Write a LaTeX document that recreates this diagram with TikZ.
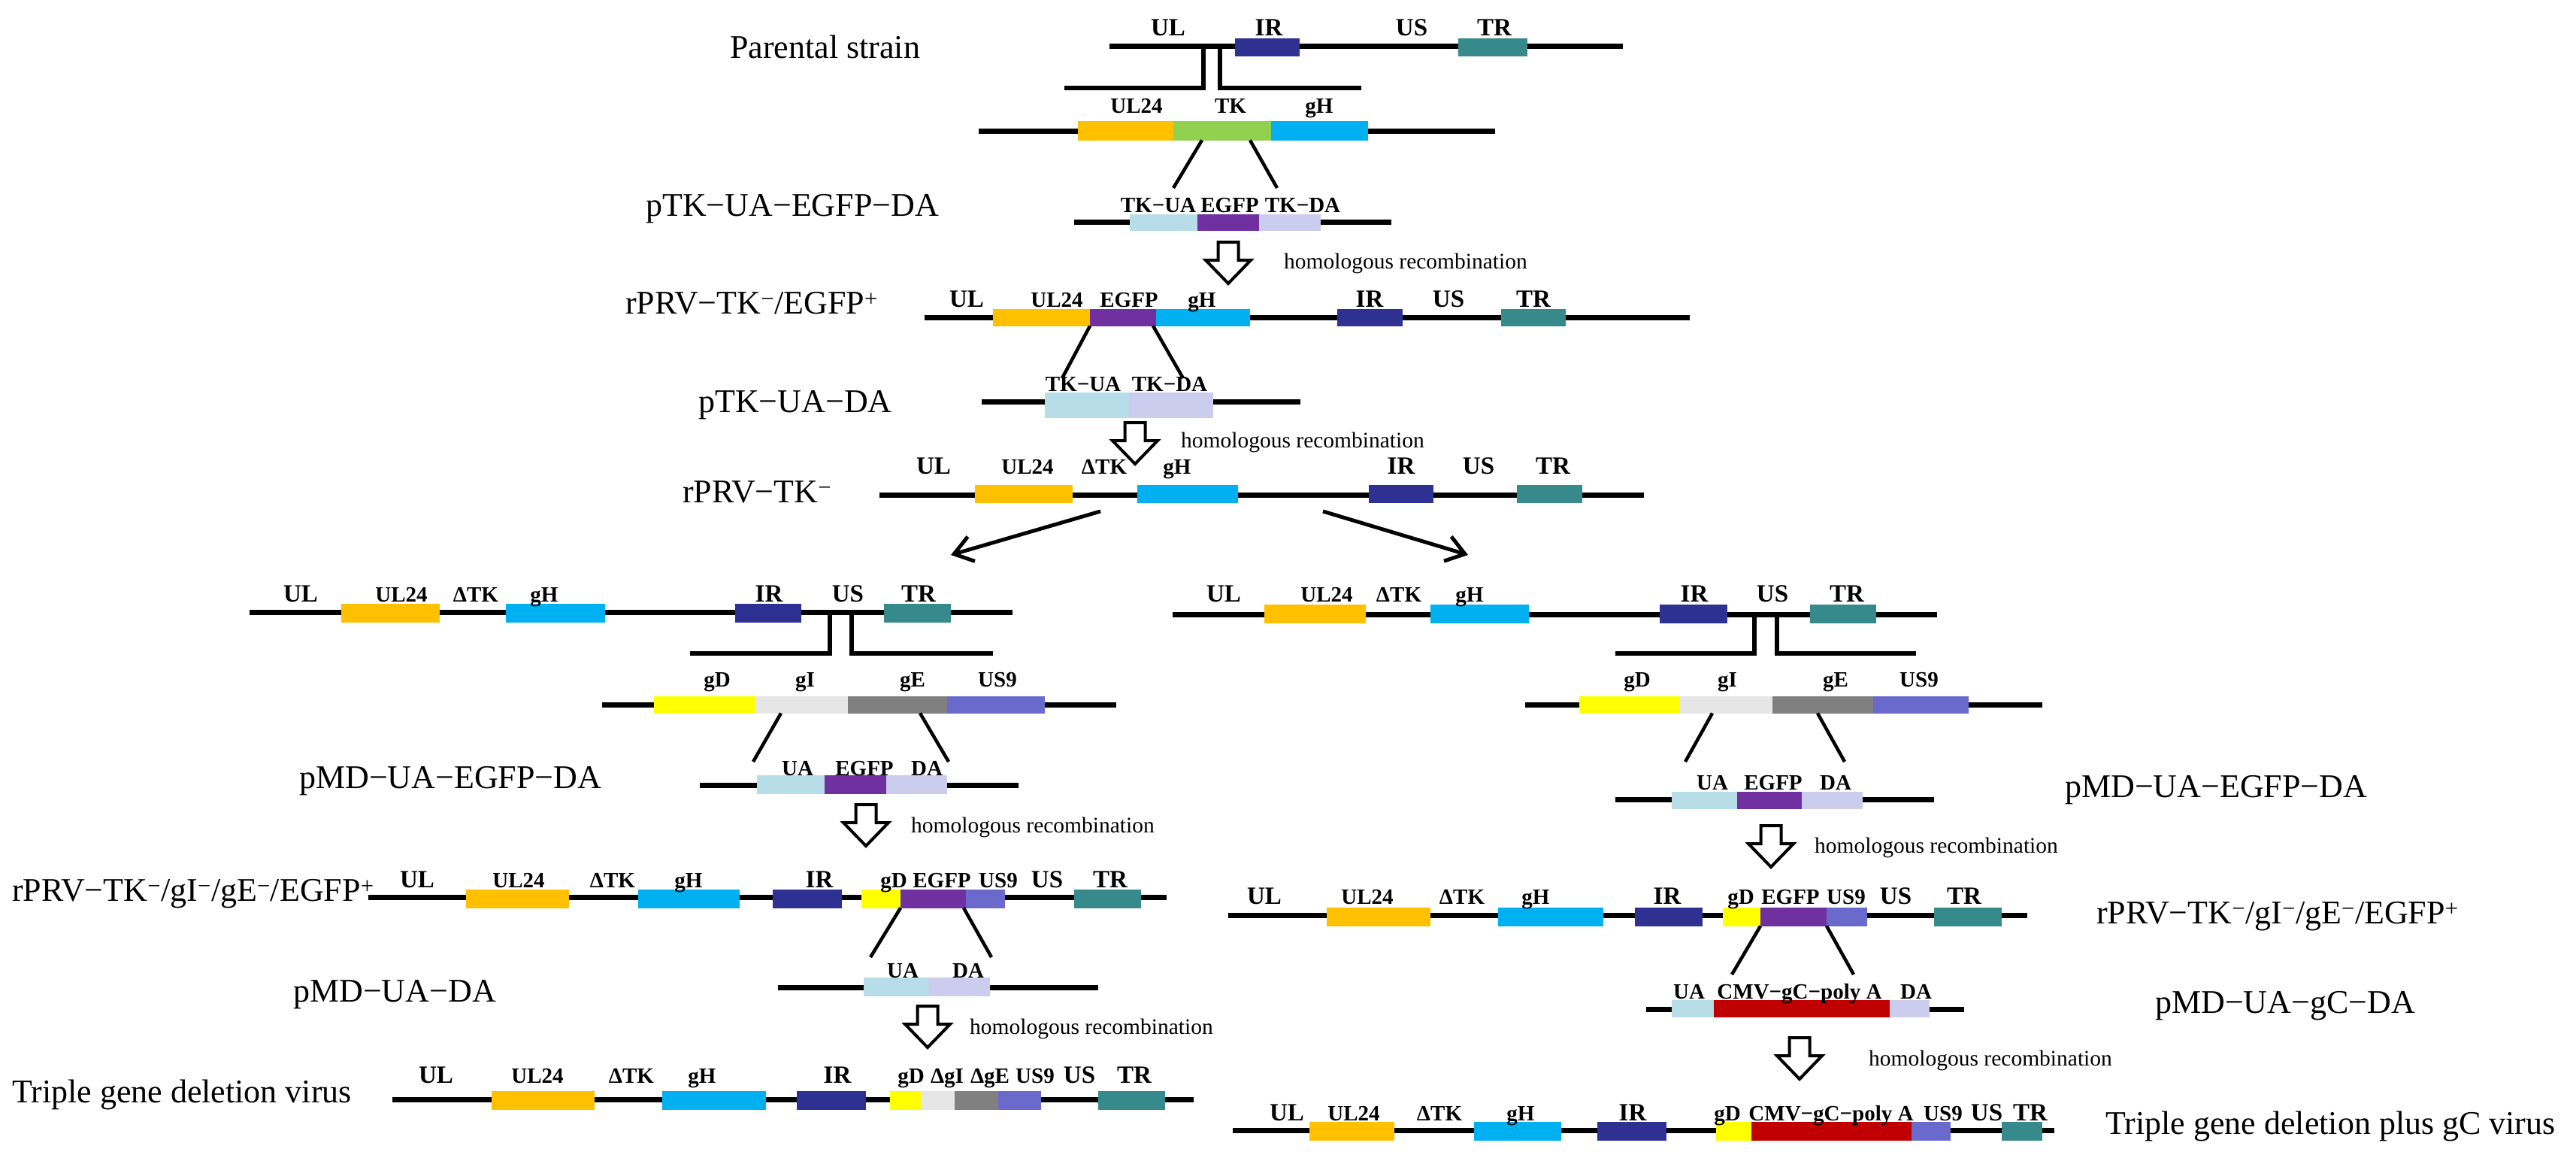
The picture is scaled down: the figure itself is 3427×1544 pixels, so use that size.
\documentclass[tikz,border=0pt]{standalone}
\usepackage{fontspec}
\setmainfont{Liberation Serif}
\usetikzlibrary{arrows.meta}
\definecolor{cUL}{RGB}{255,192,0}
\definecolor{cTK}{RGB}{146,208,80}
\definecolor{cgH}{RGB}{0,176,240}
\definecolor{cIR}{RGB}{46,49,146}
\definecolor{cTR}{RGB}{55,138,140}
\definecolor{cEG}{RGB}{112,48,160}
\definecolor{cUA}{RGB}{183,222,232}
\definecolor{cDA}{RGB}{204,204,238}
\definecolor{cgD}{RGB}{255,255,0}
\definecolor{cgI}{RGB}{230,230,230}
\definecolor{cgE}{RGB}{128,128,128}
\definecolor{cUS}{RGB}{106,106,205}
\definecolor{cCMV}{RGB}{192,0,0}
\newcommand{\gb}[6]{\node[gbox,fill=#6,minimum width={(#3)-(#2)},minimum height={#5},anchor=west] (#1) at (#2,#4) {};}
\newcommand{\harrow}[3]{\coordinate (#1) at (#2,#3);
 \draw[hollow] (#1) ++(-13.5,0) -- ++(27,0) -- ++(0,24) -- ++(16.5,0) -- ++(-30,31) -- ++(-30,-31) -- ++(16.5,0) -- cycle;}
\newcommand{\bbone}[4]{\coordinate (#1L) at (#2,#4); \coordinate (#1R) at (#3,#4); \draw[bb] (#1L) -- (#1R);}
\tikzset{
  bb/.style={line width=7pt},
  gbox/.style={rectangle,inner sep=0pt,outer sep=0pt,draw=none},
  reg/.style={anchor=base,inner sep=0pt,font=\bfseries\fontsize{33}{34}\selectfont},
  gene/.style={anchor=base,inner sep=0pt,font=\bfseries\fontsize{29}{30}\selectfont},
  big/.style={anchor=base west,inner sep=0pt,font=\fontsize{44}{48}\selectfont},
  hr/.style={anchor=base west,inner sep=0pt,font=\fontsize{29.5}{30}\selectfont},
  conn/.style={line width=4.5pt},
  brk/.style={line width=5.5pt,line join=miter},
  hollow/.style={draw,line width=4pt,fill=white,line join=miter},
  branch/.style={line width=5pt,-{Straight Barb[length=24pt,width=34pt]}}
}
\begin{document}
\begin{tikzpicture}[x=1pt,y=-1pt]
\fill[white] (0,0) rectangle (3427,1544);
\useasboundingbox (0,0) rectangle (3427,1544);

% ---------- Row 1: parental strain
\node[big] (lab1) at (971,78) {Parental strain};
\bbone{r1}{1476}{2159}{62}
\gb{r1IR}{1643}{1729}{63}{24}{cIR}
\gb{r1TR}{1940}{2032}{63}{24}{cTR}
\node[reg] (t1UL) at (1554,48) {UL};
\node[reg] (t1IR) at (1688,48) {IR};
\node[reg] (t1US) at (1878,48) {US};
\node[reg] (t1TR) at (1988,48) {TR};
\coordinate (k1a) at (1601,62); \coordinate (k1b) at (1601,117); \coordinate (k1c) at (1416,117);
\coordinate (k1d) at (1623,62); \coordinate (k1e) at (1623,117); \coordinate (k1f) at (1811,117);
\draw[brk] (k1a) -- (k1b) -- (k1c);
\draw[brk] (k1d) -- (k1e) -- (k1f);

% ---------- Row 2
\bbone{r2}{1302}{1989}{174}
\gb{r2UL}{1434}{1561}{174}{25}{cUL}
\gb{r2TK}{1561}{1691}{174}{25}{cTK}
\gb{r2gH}{1691}{1820}{174}{25}{cgH}
\node[gene] (t2UL) at (1512,150) {UL24};
\node[gene] (t2TK) at (1637,150) {TK};
\node[gene] (t2gH) at (1755,150) {gH};
\coordinate (c2a) at (1561,250); \coordinate (c2b) at (1699,250);
\draw[conn] (r2TK.south west) ++(38,0) -- (c2a);
\draw[conn] (r2TK.south west) ++(102,0) -- (c2b);

% ---------- Row 3
\node[big] (lab3) at (859,287) {pTK−UA−EGFP−DA};
\bbone{r3}{1429}{1851}{295}
\gb{r3UA}{1503}{1593}{296}{22}{cUA}
\gb{r3EG}{1593}{1675}{296}{22}{cEG}
\gb{r3DA}{1675}{1757}{296}{22}{cDA}
\node[gene] (t3UA) at (1541,282) {TK−UA};
\node[gene] (t3EG) at (1636,282) {EGFP};
\node[gene] (t3DA) at (1733,282) {TK−DA};
\harrow{a1}{1634}{322}
\node[hr] (h1) at (1708,357) {homologous recombination};

% ---------- Row 4
\node[big] (lab4) at (832,417) {rPRV−TK\textsuperscript{−}/EGFP\textsuperscript{+}};
\bbone{r4}{1230}{2248}{422}
\gb{r4UL}{1321}{1450}{422}{23}{cUL}
\gb{r4EG}{1450}{1538}{422}{23}{cEG}
\gb{r4gH}{1538}{1663}{422}{23}{cgH}
\gb{r4IR}{1779}{1866}{422}{23}{cIR}
\gb{r4TR}{1997}{2083}{422}{23}{cTR}
\node[reg] (t4UL) at (1286,408) {UL};
\node[gene] (t4U24) at (1406,408) {UL24};
\node[gene] (t4EG) at (1502,408) {EGFP};
\node[gene] (t4gH) at (1599,408) {gH};
\node[reg] (t4IR) at (1822,408) {IR};
\node[reg] (t4US) at (1927,408) {US};
\node[reg] (t4TR) at (2040,408) {TR};
\coordinate (c4a) at (1413,503); \coordinate (c4b) at (1574,503);
\draw[conn] (r4EG.south west) -- (c4a);
\draw[conn] (r4EG.south east) ++(-4,0) -- (c4b);

% ---------- Row 5
\node[big] (lab5) at (929,548) {pTK−UA−DA};
\bbone{r5}{1306}{1730}{534}
\gb{r5UA}{1390}{1502}{539}{34}{cUA}
\gb{r5DA}{1502}{1614}{539}{34}{cDA}
\node[gene] (t5UA) at (1441,520) {TK−UA};
\node[gene] (t5DA) at (1556,520) {TK−DA};
\harrow{a2}{1510}{562}
\node[hr] (h2) at (1571,595) {homologous recombination};

% ---------- Row 6
\node[big] (lab6) at (908,668) {rPRV−TK\textsuperscript{−}};
\bbone{r6}{1170}{2187}{658}
\gb{r6UL}{1297}{1427}{657}{24}{cUL}
\gb{r6gH}{1513}{1647}{657}{24}{cgH}
\gb{r6IR}{1821}{1907}{657}{24}{cIR}
\gb{r6TR}{2018}{2105}{657}{24}{cTR}
\node[reg] (t6UL) at (1242,630) {UL};
\node[gene] (t6U24) at (1367,630) {UL24};
\node[gene] (t6TK) at (1469,630) {ΔTK};
\node[gene] (t6gH) at (1566,630) {gH};
\node[reg] (t6IR) at (1864,630) {IR};
\node[reg] (t6US) at (1967,630) {US};
\node[reg] (t6TR) at (2066,630) {TR};
\coordinate (brL0) at (1464,680); \coordinate (brL1) at (1265,738);
\coordinate (brR0) at (1760,680); \coordinate (brR1) at (1953,738);
\draw[branch] (brL0) -- (brL1);
\draw[branch] (brR0) -- (brR1);

% ================= LEFT BRANCH
% Row 7L
\bbone{r7l}{332}{1347}{814}
\gb{r7lUL}{454}{585}{815}{25}{cUL}
\gb{r7lgH}{673}{805}{815}{25}{cgH}
\gb{r7lIR}{978}{1066}{815}{25}{cIR}
\gb{r7lTR}{1176}{1265}{815}{25}{cTR}
\node[reg] (t7lUL) at (400,800) {UL};
\node[gene] (t7lU24) at (534,800) {UL24};
\node[gene] (t7lTK) at (633,800) {ΔTK};
\node[gene] (t7lgH) at (724,800) {gH};
\node[reg] (t7lIR) at (1023,800) {IR};
\node[reg] (t7lUS) at (1128,800) {US};
\node[reg] (t7lTR) at (1222,800) {TR};
\coordinate (k7a) at (1104,814); \coordinate (k7b) at (1104,869); \coordinate (k7c) at (918,869);
\coordinate (k7d) at (1133,814); \coordinate (k7e) at (1133,869); \coordinate (k7f) at (1321,869);
\draw[brk] (k7a) -- (k7b) -- (k7c);
\draw[brk] (k7d) -- (k7e) -- (k7f);

% Row 8L
\bbone{r8l}{801}{1485}{937}
\gb{r8lgD}{870}{1005}{937}{23}{cgD}
\gb{r8lgI}{1005}{1128}{937}{23}{cgI}
\gb{r8lgE}{1128}{1260}{937}{23}{cgE}
\gb{r8lUS}{1260}{1390}{937}{23}{cUS}
\node[gene] (t8lgD) at (954,913) {gD};
\node[gene] (t8lgI) at (1071,913) {gI};
\node[gene] (t8lgE) at (1214,913) {gE};
\node[gene] (t8lUS) at (1327,913) {US9};
\coordinate (c8la) at (1002,1013); \coordinate (c8lb) at (1262,1013);
\draw[conn] (r8lgI.south west) ++(34,0) -- (c8la);
\draw[conn] (r8lgE.south west) ++(96,0) -- (c8lb);

% Row 9L
\node[big] (lab9l) at (398,1048) {pMD−UA−EGFP−DA};
\bbone{r9l}{931}{1355}{1044}
\gb{r9lUA}{1007}{1097}{1043}{25}{cUA}
\gb{r9lEG}{1097}{1179}{1043}{25}{cEG}
\gb{r9lDA}{1179}{1260}{1043}{25}{cDA}
\node[gene] (t9lUA) at (1061,1031) {UA};
\node[gene] (t9lEG) at (1150,1031) {EGFP};
\node[gene] (t9lDA) at (1233,1031) {DA};
\harrow{a3l}{1152}{1070}
\node[hr] (h3l) at (1212,1107) {homologous recombination};

% Row 10L
\node[big] (lab10l) at (16,1198) {rPRV−TK\textsuperscript{−}/gI\textsuperscript{−}/gE\textsuperscript{−}/EGFP\textsuperscript{+}};
\bbone{r10l}{490}{1552}{1193}
\gb{r10lUL}{620}{757}{1195}{25}{cUL}
\gb{r10lgH}{849}{984}{1195}{25}{cgH}
\gb{r10lIR}{1028}{1120}{1195}{25}{cIR}
\gb{r10lgD}{1146}{1198}{1195}{25}{cgD}
\gb{r10lEG}{1198}{1285}{1195}{25}{cEG}
\gb{r10lUS}{1285}{1337}{1195}{25}{cUS}
\gb{r10lTR}{1429}{1518}{1195}{25}{cTR}
\node[reg] (t10lUL) at (555,1180) {UL};
\node[gene] (t10lU24) at (690,1180) {UL24};
\node[gene] (t10lTK) at (815,1180) {ΔTK};
\node[gene] (t10lgH) at (916,1180) {gH};
\node[reg] (t10lIR) at (1090,1180) {IR};
\node[gene] (t10lgD) at (1189,1180) {gD};
\node[gene] (t10lEG) at (1253,1180) {EGFP};
\node[gene] (t10lU9) at (1328,1180) {US9};
\node[reg] (t10lUS) at (1393,1180) {US};
\node[reg] (t10lTR) at (1477,1180) {TR};
\coordinate (c10la) at (1158,1273); \coordinate (c10lb) at (1319,1273);
\draw[conn] (r10lEG.south west) -- (c10la);
\draw[conn] (r10lEG.south east) ++(-3,0) -- (c10lb);

% Row 11L
\node[big] (lab11l) at (390,1332) {pMD−UA−DA};
\bbone{r11l}{1035}{1461}{1313}
\gb{r11lUA}{1149}{1236}{1312}{25}{cUA}
\gb{r11lDA}{1236}{1317}{1312}{25}{cDA}
\node[gene] (t11lUA) at (1201,1300) {UA};
\node[gene] (t11lDA) at (1288,1300) {DA};
\harrow{a4l}{1234}{1338}
\node[hr] (h4l) at (1290,1375) {homologous recombination};

% Row 12L
\node[big] (lab12l) at (16,1466) {Triple gene deletion virus};
\bbone{r12l}{522}{1588}{1462}
\gb{r12lUL}{654}{791}{1463}{25}{cUL}
\gb{r12lgH}{881}{1019}{1463}{25}{cgH}
\gb{r12lIR}{1060}{1152}{1463}{25}{cIR}
\gb{r12lgD}{1184}{1225}{1463}{25}{cgD}
\gb{r12lgI}{1225}{1270}{1463}{25}{cgI}
\gb{r12lgE}{1270}{1328}{1463}{25}{cgE}
\gb{r12lUS}{1328}{1385}{1463}{25}{cUS}
\gb{r12lTR}{1461}{1550}{1463}{25}{cTR}
\node[reg] (t12lUL) at (580,1440) {UL};
\node[gene] (t12lU24) at (715,1440) {UL24};
\node[gene] (t12lTK) at (840,1440) {ΔTK};
\node[gene] (t12lgH) at (934,1440) {gH};
\node[reg] (t12lIR) at (1114,1440) {IR};
\node[gene] (t12lgD) at (1212,1440) {gD};
\node[gene] (t12lgI) at (1260,1440) {ΔgI};
\node[gene] (t12lgE) at (1317,1440) {ΔgE};
\node[gene] (t12lU9) at (1377,1440) {US9};
\node[reg] (t12lUS) at (1436,1440) {US};
\node[reg] (t12lTR) at (1509,1440) {TR};

% ================= RIGHT BRANCH
% Row 7R
\bbone{r7r}{1560}{2577}{817}
\gb{r7rUL}{1682}{1817}{816}{25}{cUL}
\gb{r7rgH}{1903}{2034}{816}{25}{cgH}
\gb{r7rIR}{2208}{2298}{816}{25}{cIR}
\gb{r7rTR}{2408}{2496}{816}{25}{cTR}
\node[reg] (t7rUL) at (1628,800) {UL};
\node[gene] (t7rU24) at (1765,800) {UL24};
\node[gene] (t7rTK) at (1861,800) {ΔTK};
\node[gene] (t7rgH) at (1955,800) {gH};
\node[reg] (t7rIR) at (2254,800) {IR};
\node[reg] (t7rUS) at (2358,800) {US};
\node[reg] (t7rTR) at (2457,800) {TR};
\coordinate (k7ra) at (2334,817); \coordinate (k7rb) at (2334,869); \coordinate (k7rc) at (2149,869);
\coordinate (k7rd) at (2364,817); \coordinate (k7re) at (2364,869); \coordinate (k7rf) at (2549,869);
\draw[brk] (k7ra) -- (k7rb) -- (k7rc);
\draw[brk] (k7rd) -- (k7re) -- (k7rf);

% Row 8R
\bbone{r8r}{2029}{2717}{937}
\gb{r8rgD}{2101}{2235}{937}{23}{cgD}
\gb{r8rgI}{2235}{2358}{937}{23}{cgI}
\gb{r8rgE}{2358}{2492}{937}{23}{cgE}
\gb{r8rUS}{2492}{2619}{937}{23}{cUS}
\node[gene] (t8rgD) at (2178,913) {gD};
\node[gene] (t8rgI) at (2298,913) {gI};
\node[gene] (t8rgE) at (2442,913) {gE};
\node[gene] (t8rUS) at (2553,913) {US9};
\coordinate (c8ra) at (2242,1013); \coordinate (c8rb) at (2454,1013);
\draw[conn] (r8rgI.south west) ++(43,0) -- (c8ra);
\draw[conn] (r8rgE.south west) ++(60,0) -- (c8rb);

% Row 9R
\node[big] (lab9r) at (2747,1060) {pMD−UA−EGFP−DA};
\bbone{r9r}{2149}{2573}{1063}
\gb{r9rUA}{2224}{2311}{1064}{23}{cUA}
\gb{r9rEG}{2311}{2397}{1064}{23}{cEG}
\gb{r9rDA}{2397}{2478}{1064}{23}{cDA}
\node[gene] (t9rUA) at (2278,1050) {UA};
\node[gene] (t9rEG) at (2359,1050) {EGFP};
\node[gene] (t9rDA) at (2442,1050) {DA};
\harrow{a3r}{2356}{1098}
\node[hr] (h3r) at (2414,1134) {homologous recombination};

% Row 10R
\node[big] (lab10r) at (2789,1228) {rPRV−TK\textsuperscript{−}/gI\textsuperscript{−}/gE\textsuperscript{−}/EGFP\textsuperscript{+}};
\bbone{r10r}{1634}{2697}{1217}
\gb{r10rUL}{1765}{1903}{1219}{25}{cUL}
\gb{r10rgH}{1993}{2133}{1219}{25}{cgH}
\gb{r10rIR}{2175}{2265}{1219}{25}{cIR}
\gb{r10rgD}{2292}{2342}{1219}{25}{cgD}
\gb{r10rEG}{2342}{2430}{1219}{25}{cEG}
\gb{r10rUS}{2430}{2484}{1219}{25}{cUS}
\gb{r10rTR}{2573}{2663}{1219}{25}{cTR}
\node[reg] (t10rUL) at (1682,1202) {UL};
\node[gene] (t10rU24) at (1819,1202) {UL24};
\node[gene] (t10rTK) at (1945,1202) {ΔTK};
\node[gene] (t10rgH) at (2043,1202) {gH};
\node[reg] (t10rIR) at (2218,1202) {IR};
\node[gene] (t10rgD) at (2316,1202) {gD};
\node[gene] (t10rEG) at (2382,1202) {EGFP};
\node[gene] (t10rU9) at (2456,1202) {US9};
\node[reg] (t10rUS) at (2522,1202) {US};
\node[reg] (t10rTR) at (2613,1202) {TR};
\coordinate (c10ra) at (2304,1296); \coordinate (c10rb) at (2466,1296);
\draw[conn] (r10rEG.south west) -- (c10ra);
\draw[conn] (r10rEG.south east) -- (c10rb);

% Row 11R
\node[big] (lab11r) at (2867,1347) {pMD−UA−gC−DA};
\bbone{r11r}{2190}{2613}{1342}
\gb{r11rUA}{2224}{2280}{1341}{23}{cUA}
\gb{r11rCM}{2280}{2514}{1341}{23}{cCMV}
\gb{r11rDA}{2514}{2567}{1341}{23}{cDA}
\node[gene] (t11rUA) at (2247,1328) {UA};
\node[gene] (t11rCM) at (2394,1328) {CMV−gC−poly A};
\node[gene] (t11rDA) at (2549,1328) {DA};
\harrow{a4r}{2394}{1380}
\node[hr] (h4r) at (2486,1417) {homologous recombination};

% Row 12R
\node[big] (lab12r) at (2801,1508) {Triple gene deletion plus gC virus};
\bbone{r12r}{1640}{2733}{1503}
\gb{r12rUL}{1742}{1855}{1504}{25}{cUL}
\gb{r12rgH}{1961}{2077}{1504}{25}{cgH}
\gb{r12rIR}{2125}{2217}{1504}{25}{cIR}
\gb{r12rgD}{2283}{2330}{1504}{25}{cgD}
\gb{r12rCM}{2330}{2543}{1504}{25}{cCMV}
\gb{r12rUS}{2543}{2595}{1504}{25}{cUS}
\gb{r12rTR}{2663}{2717}{1504}{25}{cTR}
\node[reg] (t12rUL) at (1712,1490) {UL};
\node[gene] (t12rU24) at (1801,1490) {UL24};
\node[gene] (t12rTK) at (1915,1490) {ΔTK};
\node[gene] (t12rgH) at (2023,1490) {gH};
\node[reg] (t12rIR) at (2172,1490) {IR};
\node[gene] (t12rgD) at (2298,1490) {gD};
\node[gene] (t12rCM) at (2436,1490) {CMV−gC−poly A};
\node[gene] (t12rU9) at (2585,1490) {US9};
\node[reg] (t12rUS) at (2643,1490) {US};
\node[reg] (t12rTR) at (2701,1490) {TR};
\end{tikzpicture}
\end{document}
